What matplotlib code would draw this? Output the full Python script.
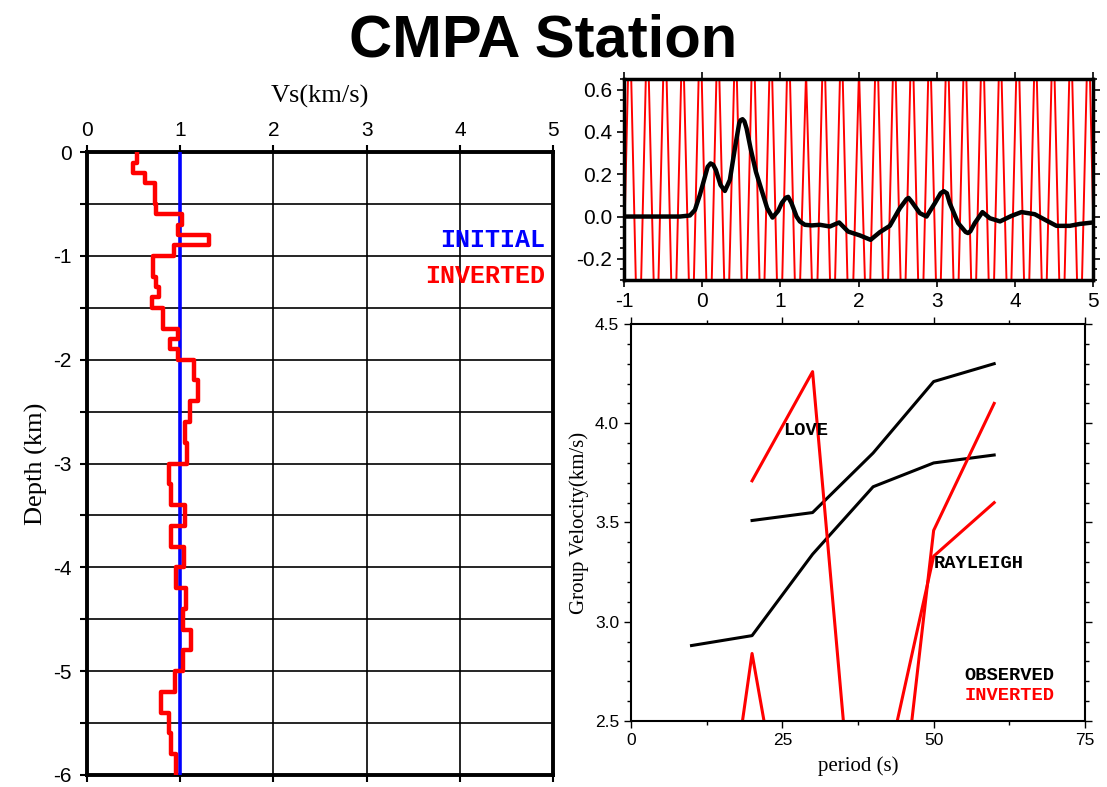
import numpy as np
import matplotlib
matplotlib.use("Agg")
import matplotlib.pyplot as plt
from matplotlib.ticker import MultipleLocator

plt.rcParams['font.family'] = ['Liberation Sans', 'DejaVu Sans']
plt.rcParams['axes.unicode_minus'] = False

SERIF = 'Liberation Serif'
MONO = 'Liberation Mono'

# --- velocity model (layer boundaries in km, Vs in km/s) ---
layer_edges = [0, 0.11, 0.2, 0.3, 0.5, 0.6, 0.7, 0.8, 0.9, 1.0,
               1.2, 1.3, 1.4, 1.5, 1.7, 1.8, 1.9, 2.0, 2.2, 2.4,
               2.6, 2.8, 3.0, 3.2, 3.4, 3.6, 3.8, 4.0, 4.2, 4.4,
               4.6, 4.8, 5.0, 5.2, 5.4, 5.6, 5.8, 6.0]
vs_inverted = [0.54, 0.49, 0.62, 0.73, 0.74, 1.02, 0.98, 1.31, 0.93, 0.71,
               0.74, 0.77, 0.70, 0.81, 0.98, 0.89, 0.98, 1.15, 1.19, 1.11,
               1.05, 1.07, 0.88, 0.90, 1.05, 0.90, 1.04, 0.95, 1.06, 1.03,
               1.12, 1.03, 0.94, 0.79, 0.88, 0.90, 0.955]
vs_initial = 1.0

# --- receiver function, observed ---
rf_time = [-1.0, -0.285, -0.157, -0.093, -0.03, 0.035, 0.07, 0.107, 0.14, 0.175,
           0.235, 0.29, 0.354, 0.418, 0.473, 0.49, 0.516, 0.54, 0.568, 0.619,
           0.687, 0.759, 0.831, 0.90, 0.972, 1.02, 1.07, 1.10, 1.143, 1.207,
           1.249, 1.313, 1.40, 1.505, 1.633, 1.752, 1.867, 2.016, 2.154, 2.272,
           2.40, 2.528, 2.614, 2.64, 2.678, 2.784, 2.87, 2.976, 3.05, 3.09,
           3.13, 3.167, 3.274, 3.37, 3.40, 3.43, 3.487, 3.585, 3.68, 3.81,
           3.956, 4.084, 4.254, 4.404, 4.532, 4.702, 4.83, 5.0]
rf_obs = [0.0, 0.0, 0.005, 0.031, 0.102, 0.188, 0.235, 0.251, 0.245, 0.22,
          0.149, 0.121, 0.173, 0.322, 0.44, 0.455, 0.46, 0.45, 0.416, 0.322,
          0.212, 0.126, 0.04, -0.005, 0.027, 0.065, 0.089, 0.093, 0.063, 0.0,
          -0.023, -0.039, -0.042, -0.039, -0.047, -0.028, -0.071, -0.089, -0.11, -0.074,
          -0.044, 0.039, 0.082, 0.088, 0.071, 0.016, 0.0, 0.063, 0.11, 0.12,
          0.11, 0.063, -0.031, -0.073, -0.078, -0.07, -0.031, 0.021, -0.008, -0.023,
          0.003, 0.021, 0.011, -0.019, -0.044, -0.044, -0.035, -0.028]

# --- receiver function, predicted (unstable, oscillating) ---
rf_t0 = -1.041
rf_dt = 0.11285
rf_inv = [-0.80, 0.98, -0.85, 0.95, -0.78, 1.00, -0.82, 0.93, -0.80, 0.97,
          -0.86, 0.95, -0.79, 0.92, -0.83, 0.99, -0.80, 0.94, -0.84, 0.96,
          -0.78, 0.68, -0.82, 0.95, -0.80, 0.93, -0.85, 0.69, -0.79, 0.97,
          -0.83, 0.94, -0.80, 0.98, -0.84, 0.93, -0.78, 0.96, -0.82, 0.95,
          -0.80, 0.99, -0.86, 0.94, -0.79, 0.97, -0.83, 0.92, -0.80, 0.96,
          -0.84, 0.95, -0.80, 0.98, -0.82]

# --- dispersion curves ---
love_period = [20, 30, 40, 50, 60]
love_obs = [3.51, 3.55, 3.85, 4.21, 4.30]
love_inv = [3.71, 4.26, 0.80, 3.46, 4.10]
rayl_period = [10, 20, 30, 40, 50, 60]
rayl_obs = [2.88, 2.93, 3.34, 3.68, 3.80, 3.84]
rayl_inv = [0.69, 2.84, 1.12, 1.95, 3.33, 3.60]

fig = plt.figure(figsize=(11.07, 7.87), dpi=100)
fig.text(0.491, 0.948, 'CMPA Station', ha='center', va='center',
         fontsize=43, fontweight='bold')

# ---------------- Vs profile ----------------
ax1 = fig.add_axes([0.0786, 0.01525, 0.421, 0.7916])
edges = np.array(layer_edges)
prof_y = -np.repeat(edges, 2)[1:-1]
prof_x = np.repeat(vs_inverted, 2)
ax1.plot([vs_initial, vs_initial], [0, -6], color='blue', lw=2.6, zorder=3)
ax1.plot(prof_x, prof_y, color='red', lw=3.2, zorder=4)
ax1.set_xlim(0, 5)
ax1.set_ylim(-6, 0)
for v in range(1, 5):
    ax1.axvline(v, color='black', lw=1.2, zorder=1)
for d in np.arange(-5.5, 0, 0.5):
    ax1.axhline(d, color='black', lw=1.2, zorder=1)
ax1.xaxis.tick_top()
ax1.xaxis.set_label_position('top')
ax1.set_xticks(range(0, 6))
ax1.set_yticks(range(-6, 1))
ax1.yaxis.set_minor_locator(MultipleLocator(0.5))
ax1.tick_params(axis='x', which='both', top=True, bottom=True, direction='out',
                length=5, width=1.5, labelsize=15, pad=4)
ax1.tick_params(axis='y', which='both', left=True, right=False, direction='out',
                length=5, width=1.5, labelsize=15, pad=6)
for s in ax1.spines.values():
    s.set_linewidth(2.8)
ax1.set_xlabel('Vs(km/s)', family=SERIF, fontsize=19, labelpad=13)
ax1.set_ylabel('Depth (km)', family=SERIF, fontsize=19, labelpad=4)
ax1.text(4.91, -0.85, 'INITIAL', color='blue', family=MONO, fontweight='bold',
         fontsize=18, ha='right', va='center')
ax1.text(4.91, -1.19, 'INVERTED', color='red', family=MONO, fontweight='bold',
         fontsize=18, ha='right', va='center')

# ---------------- receiver functions ----------------
ax2 = fig.add_axes([0.5637, 0.6442, 0.4237, 0.2554])
rf_inv_time = rf_t0 + rf_dt * np.arange(len(rf_inv))
ax2.plot(rf_inv_time, rf_inv, color='red', lw=1.4, zorder=2)
ax2.plot(rf_time, rf_obs, color='black', lw=3.2, zorder=3,
         solid_joinstyle='round', solid_capstyle='round')
ax2.set_xlim(-1, 5)
ax2.set_ylim(-0.3, 0.65)
ax2.set_xticks(range(-1, 6))
ax2.set_yticks([-0.2, 0.0, 0.2, 0.4, 0.6])
ax2.yaxis.set_major_formatter(plt.FormatStrFormatter('%.1f'))
ax2.yaxis.set_minor_locator(MultipleLocator(0.05))
ax2.tick_params(axis='both', which='both', direction='out', top=True, right=True,
                width=1.2, labelsize=15)
ax2.tick_params(which='major', length=5)
ax2.tick_params(which='minor', length=3)
for s in ax2.spines.values():
    s.set_linewidth(2.5)

# ---------------- dispersion ----------------
ax3 = fig.add_axes([0.570, 0.0839, 0.4101, 0.5044])
ax3.plot(love_period, love_obs, color='black', lw=2.2)
ax3.plot(rayl_period, rayl_obs, color='black', lw=2.2)
ax3.plot(love_period, love_inv, color='red', lw=2.2)
ax3.plot(rayl_period, rayl_inv, color='red', lw=2.2)
ax3.set_xlim(0, 75)
ax3.set_ylim(2.5, 4.5)
ax3.set_xticks([0, 25, 50, 75])
ax3.xaxis.set_minor_locator(MultipleLocator(12.5))
ax3.set_yticks([2.5, 3.0, 3.5, 4.0, 4.5])
ax3.yaxis.set_major_formatter(plt.FormatStrFormatter('%.1f'))
ax3.yaxis.set_minor_locator(MultipleLocator(0.1))
ax3.tick_params(axis='both', which='both', direction='out', top=True, right=True,
                width=1.0, labelsize=12.5)
ax3.tick_params(which='major', length=5)
ax3.tick_params(which='minor', length=3)
for s in ax3.spines.values():
    s.set_linewidth(1.5)
ax3.set_xlabel('period (s)', family=SERIF, fontsize=15, labelpad=6)
ax3.set_ylabel('Group Velocity(km/s)', family=SERIF, fontsize=15, labelpad=4)
lab = dict(family=MONO, fontweight='bold', fontsize=13.5, va='center', ha='left')
ax3.text(25.2, 3.965, 'LOVE', color='black', **lab)
ax3.text(50.0, 3.293, 'RAYLEIGH', color='black', **lab)
ax3.text(55.1, 2.727, 'OBSERVED', color='black', **lab)
ax3.text(55.1, 2.627, 'INVERTED', color='red', **lab)

fig.savefig('out.png', dpi=100)
